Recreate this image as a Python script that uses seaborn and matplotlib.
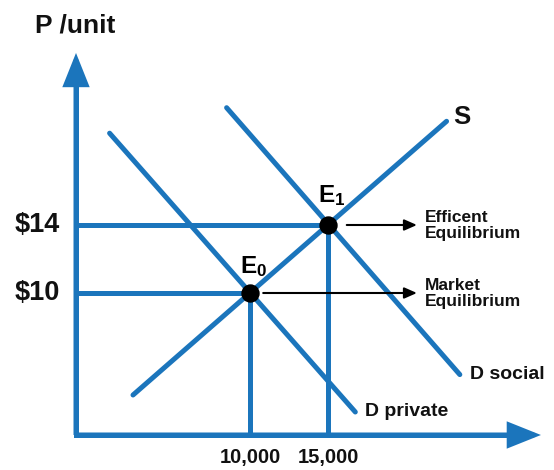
import matplotlib
matplotlib.use('Agg')
import matplotlib.pyplot as plt
import seaborn as sns
import pandas as pd

sns.set_theme(style='white')
plt.rcParams['font.family'] = ['Liberation Sans', 'DejaVu Sans']
plt.rcParams['font.weight'] = 'bold'
plt.rcParams['mathtext.fontset'] = 'custom'
plt.rcParams['mathtext.rm'] = 'Liberation Sans:bold'
plt.rcParams['mathtext.it'] = 'Liberation Sans:bold'
plt.rcParams['mathtext.bf'] = 'Liberation Sans:bold'

BLUE = '#1b75bc'

# ---- data ----
supply_q = [2500, 22600]
supply_p = [4.0, 20.1]
d_private_q = [1000, 16750]
d_private_p = [19.4, 3.0]
d_social_q = [8500, 23450]
d_social_p = [20.9, 5.2]
eq_names = ['E$_0$', 'E$_1$']
eq_q = [10000, 15000]
eq_p = [10, 14]
price_labels = [r'\$10', r'\$14']
qty_labels = ['10,000', '15,000']
eq_desc = ['Market\nEquilibrium', 'Efficent\nEquilibrium']
curve_labels = ['S', 'D private', 'D social']

# ---- layout ----
Q0, P0 = -1154, 1.647          # axis corner
Q_TIP, P_TIP = 28650, 24.12    # arrow tips
Q_LABEL = 20700                # where the black arrows end

fig = plt.figure(figsize=(5.54, 4.70), dpi=100)
ax = fig.add_axes([0, 0, 1, 1])
ax.set_xlim(-6026, 29487)
ax.set_ylim(-0.412, 27.235)
ax.axis('off')

LW = 3.6
# guide lines
ax.hlines(eq_p, Q0, eq_q, color=BLUE, lw=LW, zorder=2)
ax.vlines(eq_q, P0, eq_p, color=BLUE, lw=LW, zorder=2)

# curves
for qs, ps in [(supply_q, supply_p), (d_private_q, d_private_p), (d_social_q, d_social_p)]:
    df = pd.DataFrame({'q': qs, 'p': ps})
    sns.lineplot(data=df, x='q', y='p', ax=ax, color=BLUE, lw=LW, sort=False,
                 solid_capstyle='round', zorder=3)

# axes (L shape + arrow heads)
ax.plot([Q0, Q0, Q_TIP - 1500], [P_TIP - 1.5, P0, P0], color=BLUE, lw=LW,
        solid_joinstyle='miter', solid_capstyle='butt', zorder=4)
for xy in [(Q0, P_TIP), (Q_TIP, P0)]:
    ax.annotate('', xy=xy, xytext=(Q0, P0),
                arrowprops=dict(arrowstyle='-|>,head_length=1.8,head_width=0.72',
                                mutation_scale=10, lw=LW, color=BLUE,
                                joinstyle='miter', capstyle='butt',
                                shrinkA=0, shrinkB=0), zorder=4)

# equilibrium points
eq_df = pd.DataFrame({'q': eq_q, 'p': eq_p})
sns.scatterplot(data=eq_df, x='q', y='p', ax=ax, color='black', s=175,
                edgecolor='black', linewidth=0, zorder=6)
ax.set_xlabel('')
ax.set_ylabel('')

# black arrows + descriptions
shrinks = [9.5, 13.5]
for q, p, txt, sh in zip(eq_q, eq_p, eq_desc, shrinks):
    ax.annotate('', xy=(Q_LABEL, p), xytext=(q, p),
                arrowprops=dict(arrowstyle='-|>,head_length=0.5,head_width=0.22',
                                mutation_scale=15, lw=1.5, color='black',
                                shrinkA=sh, shrinkB=0), zorder=5)
    ax.annotate(txt, xy=(Q_LABEL, p), xytext=(5.5, -0.5), textcoords='offset points',
                ha='left', va='center', fontsize=12.5, fontweight='bold',
                linespacing=1.08, color='#111111')

# equilibrium names
name_offsets = [(2.5, 14.5), (2.5, 16.5)]
for q, p, name, off in zip(eq_q, eq_p, eq_names, name_offsets):
    ax.annotate(name, xy=(q, p), xytext=off, textcoords='offset points',
                ha='center', va='baseline', fontsize=17.5, fontweight='bold', color='black')

# price and quantity labels
for p, lab in zip(eq_p, price_labels):
    ax.annotate(lab, xy=(Q0, p), xytext=(-11.5, 0), textcoords='offset points',
                ha='right', va='center', fontsize=19.5, fontweight='bold', color='#111111')
for q, lab in zip(eq_q, qty_labels):
    ax.annotate(lab, xy=(q, P0), xytext=(0, -16.5), textcoords='offset points',
                ha='center', va='center', fontsize=14.5, fontweight='bold', color='#111111')

# curve labels
ax.annotate(curve_labels[0], xy=(supply_q[1], supply_p[1]), xytext=(5, 3),
            textcoords='offset points', ha='left', va='center', fontsize=18.5,
            fontweight='bold', color='#111111')
ax.annotate(curve_labels[1], xy=(d_private_q[1], d_private_p[1]), xytext=(7, 0),
            textcoords='offset points', ha='left', va='center', fontsize=14,
            fontweight='bold', color='#111111')
ax.annotate(curve_labels[2], xy=(d_social_q[1], d_social_p[1]), xytext=(7, 0),
            textcoords='offset points', ha='left', va='center', fontsize=14,
            fontweight='bold', color='#111111')

# axis title
ax.annotate('P /unit', xy=(Q0, P_TIP), xytext=(-29.5, 19.5), textcoords='offset points',
            ha='left', va='center', fontsize=19, fontweight='bold', color='#111111')

fig.savefig('out.png', dpi=100)
